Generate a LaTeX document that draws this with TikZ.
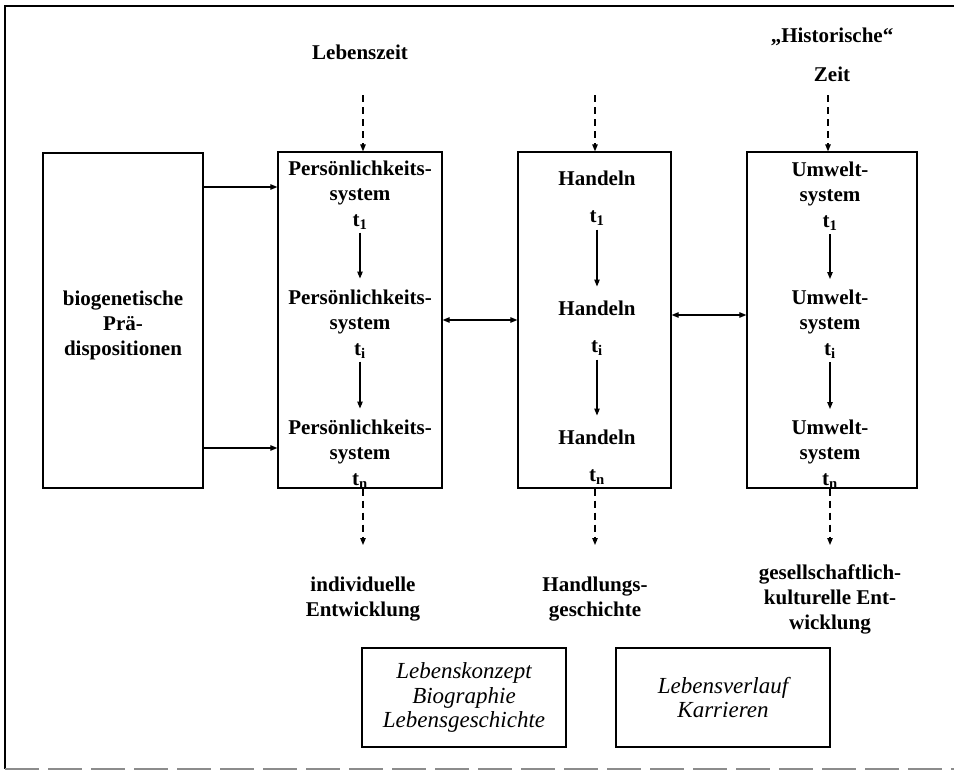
\documentclass[tikz,border=0pt]{standalone}
\usepackage{fontspec}
\setmainfont{Liberation Serif}
\usetikzlibrary{arrows.meta,calc}
\begin{document}
\begin{tikzpicture}[x=1pt,y=-1pt,
  box/.style={draw,line width=1.3pt,inner sep=0pt},
  lbl/.style={font=\fontsize{21}{25}\selectfont\bfseries,align=center,inner sep=0pt},
  itl/.style={font=\fontsize{23}{24.5}\selectfont\itshape,align=center,inner sep=0pt},
  arr/.style={line width=1.1pt,-{Triangle[length=7pt,width=5.5pt]}},
  darr/.style={arr,dash pattern=on 7pt off 5pt},
  dbl/.style={line width=1.1pt,{Triangle[length=7pt,width=5.5pt]}-{Triangle[length=7pt,width=5.5pt]}}
]
\useasboundingbox (0,0) rectangle (954,779);
% outer frame (open on the right)
\draw[line width=1.3pt] (954,6) -- (5,6) -- (5,769);
\draw[line width=1.2pt,black!45,dash pattern=on 34pt off 9pt] (5,769) -- (954,769);

% big boxes
\node[box,minimum width=160pt,minimum height=335pt] (lb) at (123,320.5) {};
\node[box,minimum width=164pt,minimum height=336pt] (pb) at (360,320) {};
\node[box,minimum width=153pt,minimum height=336pt] (hb) at (594.5,320) {};
\node[box,minimum width=170pt,minimum height=336pt] (ub) at (832,320) {};

% left box text
\node[lbl] (bio) at (123,325) {biogenetische\\Prä-\\dispositionen};

% top labels
\node[lbl,anchor=north] (lz) at (360,45) {Lebenszeit};
\node[lbl,anchor=north] (hz) at (832,28) {„Historische“\\[14pt]Zeit};

% Persoenlichkeitssystem column
\node[lbl,anchor=north] (p1) at (360,160.5) {Persönlichkeits-\\system\\[1pt]t\textsubscript{1}};
\node[lbl,anchor=north] (p2) at (360,289.5) {Persönlichkeits-\\system\\[1pt]t\textsubscript{i}};
\node[lbl,anchor=north] (p3) at (360,419.5) {Persönlichkeits-\\system\\[1pt]t\textsubscript{n}};

% Handeln column
\node[lbl,anchor=north] (h1) at (597,170.5) {Handeln\\[12pt]t\textsubscript{1}};
\node[lbl,anchor=north] (h2) at (597,300.5) {Handeln\\[12pt]t\textsubscript{i}};
\node[lbl,anchor=north] (h3) at (597,429.5) {Handeln\\[12pt]t\textsubscript{n}};

% Umweltsystem column
\node[lbl,anchor=north] (u1) at (830,162) {Umwelt-\\system\\[1pt]t\textsubscript{1}};
\node[lbl,anchor=north] (u2) at (830,290) {Umwelt-\\system\\[1pt]t\textsubscript{i}};
\node[lbl,anchor=north] (u3) at (830,420) {Umwelt-\\system\\[1pt]t\textsubscript{n}};

% bottom labels
\node[lbl,anchor=north] (ie) at (363,577) {individuelle\\Entwicklung};
\node[lbl,anchor=north] (hg) at (595,577) {Handlungs-\\geschichte};
\node[lbl,anchor=north] (gk) at (830,565) {gesellschaftlich-\\kulturelle Ent-\\wicklung};

% bottom boxes
\node[box,minimum width=204pt,minimum height=99pt] (b1) at (464,697.5) {};
\node[itl] (b1t) at (b1.center) {Lebenskonzept\\Biographie\\Lebensgeschichte};
\node[box,minimum width=214pt,minimum height=99pt] (b2) at (723,697.5) {};
\node[itl] (b2t) at (b2.center) {Lebensverlauf\\Karrieren};

% arrow helper coordinates
\coordinate (a1) at (0,187);
\coordinate (a2) at (0,448);
\coordinate (d1) at (0,320);
\coordinate (d2) at (0,315);
\coordinate (tp) at (363,95);
\coordinate (th) at (595,95);
\coordinate (tu) at (828,95);
\coordinate (bp) at (363,545);
\coordinate (bh) at (595,545);
\coordinate (bu) at (830,545);

% left arrows
\draw[arr] (lb.east |- a1) -- (pb.west |- a1);
\draw[arr] (lb.east |- a2) -- (pb.west |- a2);
% double arrows
\draw[dbl] (pb.east |- d1) -- (hb.west |- d1);
\draw[dbl] (hb.east |- d2) -- (ub.west |- d2);

% inner arrows
\draw[arr,shorten <=3pt,shorten >=11pt] (p1.south) -- (p2.north);
\draw[arr,shorten <=3pt,shorten >=11pt] (p2.south) -- (p3.north);
\draw[arr,shorten <=4pt,shorten >=14pt] (h1.south) -- (h2.north);
\draw[arr,shorten <=4pt,shorten >=14pt] (h2.south) -- (h3.north);
\draw[arr,shorten <=3pt,shorten >=11pt] (u1.south) -- (u2.north);
\draw[arr,shorten <=3pt,shorten >=11pt] (u2.south) -- (u3.north);

% dashed arrows
\draw[darr] (tp) -- (pb.north -| tp);
\draw[darr] (th) -- (hb.north -| th);
\draw[darr] (tu) -- (ub.north -| tu);
\draw[darr] (pb.south -| bp) -- (bp);
\draw[darr] (hb.south -| bh) -- (bh);
\draw[darr] (ub.south -| bu) -- (bu);
\end{tikzpicture}
\end{document}
